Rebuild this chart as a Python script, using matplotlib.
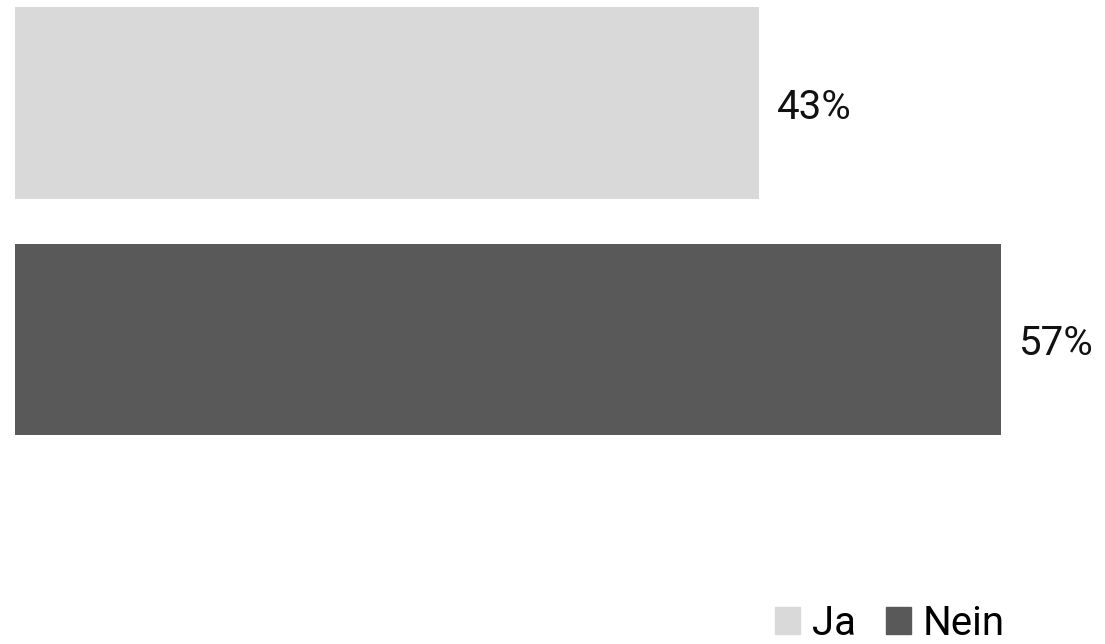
import matplotlib
matplotlib.use("Agg")
import matplotlib.pyplot as plt
from matplotlib.patches import Patch

plt.rcParams['font.family'] = ['Roboto', 'DejaVu Sans']

# Daten
categories = ["Ja", "Nein"]
values = [43, 57]
colors = ["#d9d9d9", "#595959"]

fig = plt.figure(figsize=(11.05, 6.44), dpi=100)
ax = fig.add_axes([15 / 1105, 0, 1090 / 1105, 1])

y_pos = list(range(len(categories)))
ax.barh(y_pos, values, height=0.81, color=colors)

for y, v in zip(y_pos, values):
    ax.annotate(f"{v}%", xy=(v, y), xytext=(13, -3), textcoords="offset points",
                va="center", ha="left", fontsize=29, color="#111111")

ax.set_xlim(0, 1090 / 17.3)
ax.set_ylim(2.2875, -0.4355)
ax.axis("off")

handles = [Patch(color=c, label=l) for c, l in zip(colors, categories)]
fig.legend(handles=handles, loc="lower right", bbox_to_anchor=(1005 / 1105, 0.002),
           ncol=2, frameon=False, handlelength=0.62, handleheight=0.62,
           handletextpad=0.3, columnspacing=0.75, borderpad=0, borderaxespad=0,
           prop={"size": 29})

fig.savefig("out.png", dpi=100)
